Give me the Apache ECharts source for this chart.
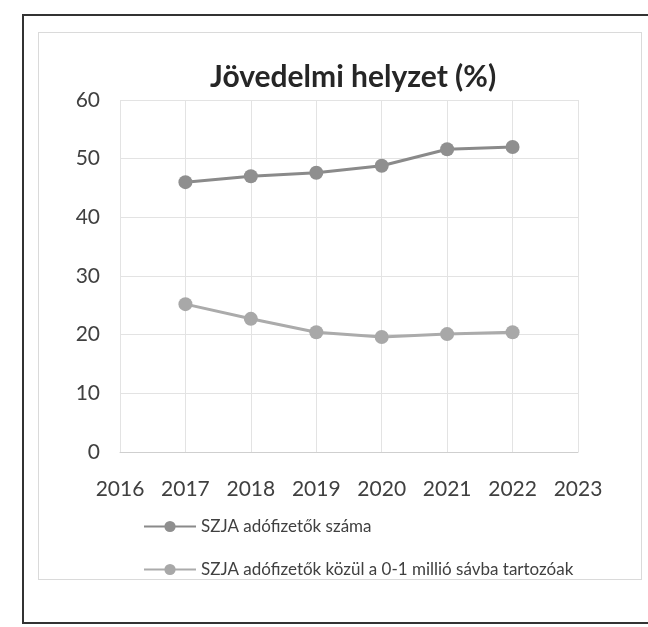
<!DOCTYPE html>
<html><head><meta charset="utf-8">
<script src="https://cdn.jsdelivr.net/npm/echarts@6/dist/echarts.min.js"></script>
<style>
html,body{margin:0;padding:0;background:#fff;}
#frame{position:absolute;left:22px;top:14px;width:640px;height:606px;border-left:2px solid #333;border-top:2px solid #333;border-bottom:2px solid #333;}
#inner{position:absolute;left:38px;top:32px;width:602px;height:546px;border:1px solid #dadada;}
#chart{position:absolute;left:0;top:0;width:648px;height:627px;}
</style></head>
<body>
<div id="frame"></div>
<div id="inner"></div>
<div id="chart"></div>
<script>
const years = [2017, 2018, 2019, 2020, 2021, 2022];
const szjaTotal = [46.0, 47.0, 47.6, 48.8, 51.6, 52.0];
const szjaLow = [25.2, 22.7, 20.4, 19.6, 20.1, 20.4];
const seriesNames = ['SZJA adófizetők száma', 'SZJA adófizetők közül a 0-1 millió sávba tartozóak'];
const titleText = 'Jövedelmi helyzet (%)';

const chart = echarts.init(document.getElementById('chart'), null, {renderer: 'canvas'});
const font = 'Lato, "Open Sans", sans-serif';
chart.setOption({
  animation: false,
  backgroundColor: 'transparent',
  title: {
    text: titleText, left: 205, top: 57,
    textStyle: {fontFamily: font, fontSize: 30, fontWeight: 'bold', color: '#262626'}
  },
  grid: {left: 120, right: 70, top: 100, bottom: 175},
  xAxis: {
    type: 'value', min: 2016, max: 2023, interval: 1,
    axisLine: {show: true, lineStyle: {color: '#cfcfcf', width: 1}},
    axisTick: {show: false},
    splitLine: {show: true, lineStyle: {color: '#e3e3e3', width: 1}},
    axisLabel: {fontFamily: font, fontSize: 21, color: '#404040', margin: 27, formatter: v => String(v)}
  },
  yAxis: {
    type: 'value', min: 0, max: 60, interval: 10,
    axisLine: {show: false},
    axisTick: {show: false},
    splitLine: {show: true, lineStyle: {color: '#e3e3e3', width: 1}},
    axisLabel: {fontFamily: font, fontSize: 21, color: '#404040', margin: 20}
  },
  legend: {
    orient: 'vertical', left: 138, top: 513, itemGap: 26,
    itemWidth: 52, itemHeight: 14,
    textStyle: {fontFamily: font, fontSize: 17, color: '#404040'},
    data: seriesNames
  },
  series: [
    {
      name: seriesNames[0], type: 'line',
      data: years.map((y, i) => [y, szjaTotal[i]]),
      symbol: 'circle', symbolSize: 14,
      lineStyle: {color: '#8a8a8a', width: 3},
      itemStyle: {color: '#8f8f8f'}
    },
    {
      name: seriesNames[1], type: 'line',
      data: years.map((y, i) => [y, szjaLow[i]]),
      symbol: 'circle', symbolSize: 14,
      lineStyle: {color: '#ababab', width: 3},
      itemStyle: {color: '#a8a8a8'}
    }
  ]
});
</script>
</body></html>
